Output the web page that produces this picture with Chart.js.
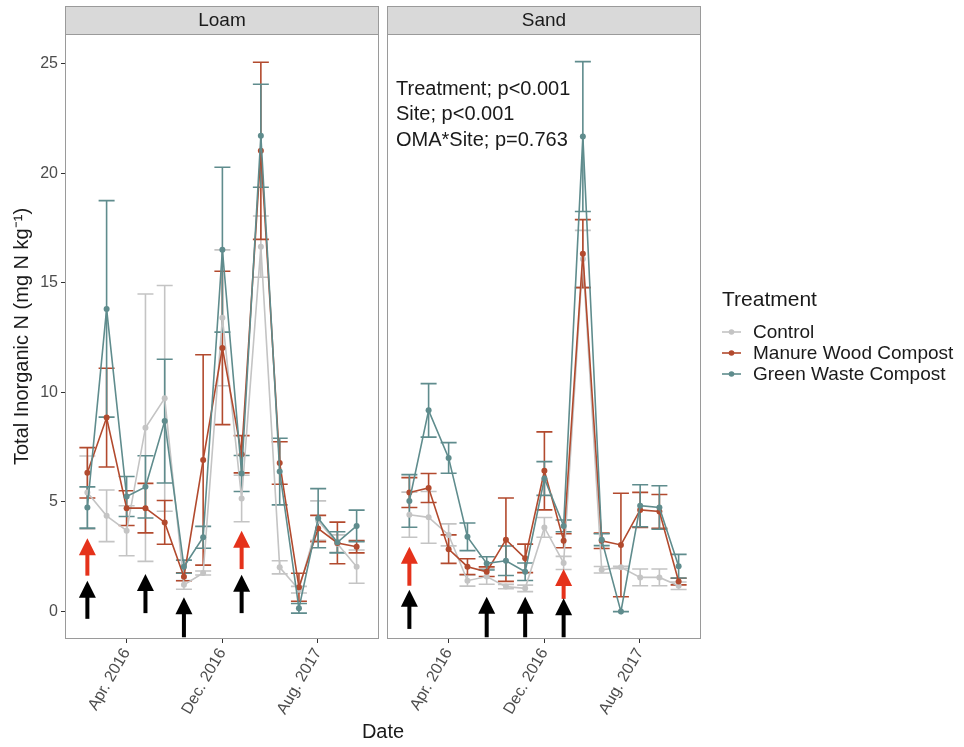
<!DOCTYPE html>
<html>
<head>
<meta charset="utf-8">
<script src="https://cdn.jsdelivr.net/npm/chart.js@4.4.1/dist/chart.umd.min.js"></script>
<style>
  body { margin: 0; background: #fff; font-family: "Liberation Sans", Arial, sans-serif; }
  #wrap { position: relative; width: 964px; height: 747px; }
  canvas.panel { position: absolute; left: 0; top: 0; }
  #xtitle { position: absolute; left: 383px; top: 720px; transform: translateX(-50%); font-size: 20px; color: #1a1a1a; }
  #legend { position: absolute; left: 722px; top: 287px; color: #1a1a1a; }
  #legend .ttl { font-size: 21px; height: 34px; }
  #legend .row { display: flex; align-items: center; height: 21px; font-size: 19px; }
  #legend canvas { margin-right: 12px; }
</style>
</head>
<body>
<div id="wrap">
  <canvas id="loam" class="panel" width="964" height="747"></canvas>
  <canvas id="sand" class="panel" width="964" height="747"></canvas>
  <div id="xtitle">Date</div>
  <div id="legend"><div class="ttl">Treatment</div></div>
</div>
<script>
// sampling dates (same for both sites)
const dates = ['2015-12-23', '2016-02-10', '2016-04-01', '2016-05-19', '2016-07-07', '2016-08-25', '2016-10-13',
  '2016-12-01', '2017-01-19', '2017-03-09', '2017-04-26', '2017-06-14', '2017-08-02', '2017-09-20', '2017-11-08'];
const tickDates = ['2016-04-01', '2016-12-01', '2017-08-01'];
const tickLabels = ['Apr. 2016', 'Dec. 2016', 'Aug. 2017'];
const yTicks = [0, 5, 10, 15, 20, 25];

const seriesNames = ['Control', 'Manure Wood Compost', 'Green Waste Compost'];
const seriesColors = ['#c4c4c4', '#b24a2e', '#5f8c8d'];

// Loam
const loamControl   = [5.43, 4.37, 3.69, 8.39, 9.73, 1.22, 1.76, 13.40, 5.16, 16.65, 2.02, 1.00, 4.15, 3.10, 2.05];
const loamControlSE = [1.67, 1.18, 1.14, 6.10, 5.15, 0.20, 0.09, 3.10, 1.06, 1.40, 0.30, 0.15, 0.90, 0.40, 0.76];
const loamManure    = [6.33, 8.85, 4.72, 4.72, 4.07, 1.59, 6.92, 12.03, 7.18, 21.02, 6.78, 1.11, 3.79, 3.13, 2.96];
const loamManureSE  = [1.15, 2.25, 0.79, 1.13, 1.00, 0.18, 4.80, 3.50, 0.85, 4.04, 0.97, 0.64, 0.60, 0.95, 0.28];
const loamGreen     = [4.75, 13.81, 5.25, 5.69, 8.69, 2.05, 3.39, 16.51, 6.30, 21.71, 6.39, 0.15, 4.26, 3.16, 3.91];
const loamGreenSE   = [0.94, 4.94, 0.91, 1.42, 2.82, 0.30, 0.50, 3.76, 0.82, 2.35, 1.52, 0.22, 1.35, 0.48, 0.72];

// Sand
const sandControl   = [4.42, 4.30, 3.50, 1.41, 1.60, 1.14, 1.06, 3.84, 2.22, 16.09, 1.91, 2.02, 1.56, 1.56, 1.18];
const sandControlSE = [1.03, 1.18, 0.50, 0.25, 0.35, 0.10, 0.15, 0.45, 0.30, 1.30, 0.15, 0.05, 0.38, 0.38, 0.17];
const sandManure    = [5.43, 5.64, 2.85, 2.05, 1.82, 3.28, 2.43, 6.42, 3.23, 16.33, 3.23, 3.04, 4.64, 4.57, 1.37];
const sandManureSE  = [0.68, 0.66, 0.65, 0.36, 0.22, 1.90, 0.65, 1.78, 0.32, 1.55, 0.35, 2.36, 0.80, 0.77, 0.15];
const sandGreen     = [5.05, 9.18, 7.01, 3.41, 2.20, 2.32, 1.82, 6.07, 3.91, 21.67, 3.28, 0.00, 4.83, 4.75, 2.07];
const sandGreenSE   = [1.20, 1.22, 0.70, 0.63, 0.30, 0.67, 0.40, 0.77, 0.27, 3.42, 0.27, 0.00, 0.96, 0.99, 0.54];

// arrows: [date index, y of tip, y of tail]
const loamRedArrows   = [[0, 3.35, 1.64], [8, 3.69, 1.94]];
const loamBlackArrows = [[0, 1.41, -0.33], [3, 1.72, -0.07], [5, 0.66, -1.17], [8, 1.68, -0.07]];
const sandRedArrows   = [[0, 2.96, 1.18], [8, 1.94, 0.58]];
const sandBlackArrows = [[0, 1.00, -0.79], [4, 0.68, -1.17], [6, 0.68, -1.17], [8, 0.61, -1.17]];

const statLines = ['Treatment; p<0.001', 'Site; p<0.001', 'OMA*Site; p=0.763'];

const FONT = '"Liberation Sans", Arial, sans-serif';
Chart.defaults.font.family = FONT;

function day(s) { return Date.parse(s) / 86400000; }

function drawArrow(ctx, x, yTip, yTail, color) {
  ctx.save();
  ctx.fillStyle = color;
  ctx.fillRect(x - 2, yTip + 15, 4, yTail - yTip - 15);
  ctx.beginPath();
  ctx.moveTo(x, yTip);
  ctx.lineTo(x - 8.5, yTip + 17);
  ctx.lineTo(x + 8.5, yTip + 17);
  ctx.closePath();
  ctx.fill();
  ctx.restore();
}

function makePanel(id, name, values, errors, redArrows, blackArrows, isLeft, notes) {
  const datasets = values.map((vals, k) => ({
    label: seriesNames[k],
    data: vals.map((v, i) => ({ x: day(dates[i]), y: v })),
    err: errors[k],
    borderColor: seriesColors[k],
    backgroundColor: seriesColors[k],
    borderWidth: 1.6,
    pointRadius: 3,
    pointBorderWidth: 0,
    tension: 0,
    order: 3 - k
  }));

  const deco = {
    id: 'deco',
    beforeDatasetsDraw(chart) {
      const ctx = chart.ctx, xs = chart.scales.x, ys = chart.scales.y;
      ctx.save();
      ctx.beginPath();
      ctx.rect(chart.chartArea.left, chart.chartArea.top, chart.chartArea.width, chart.chartArea.height);
      ctx.clip();
      chart.data.datasets.forEach(ds => {
        ctx.strokeStyle = ds.borderColor;
        ctx.lineWidth = 1.6;
        ds.data.forEach((p, i) => {
          const e = ds.err[i];
          const px = xs.getPixelForValue(p.x);
          const hi = ys.getPixelForValue(p.y + e), lo = ys.getPixelForValue(p.y - e);
          ctx.beginPath();
          ctx.moveTo(px, hi); ctx.lineTo(px, lo);
          ctx.moveTo(px - 8, hi); ctx.lineTo(px + 8, hi);
          ctx.moveTo(px - 8, lo); ctx.lineTo(px + 8, lo);
          ctx.stroke();
        });
      });
      ctx.restore();
    },
    afterDatasetsDraw(chart) {
      const ctx = chart.ctx, xs = chart.scales.x, ys = chart.scales.y;
      redArrows.forEach(a => drawArrow(ctx, xs.getPixelForValue(day(dates[a[0]])), ys.getPixelForValue(a[1]), ys.getPixelForValue(a[2]), '#e5321b'));
      blackArrows.forEach(a => drawArrow(ctx, xs.getPixelForValue(day(dates[a[0]])), ys.getPixelForValue(a[1]), ys.getPixelForValue(a[2]), '#000'));
    },
    afterDraw(chart) {
      const ctx = chart.ctx, a = chart.chartArea;
      ctx.save();
      // panel border
      ctx.strokeStyle = '#9a9a9a';
      ctx.lineWidth = 1;
      ctx.strokeRect(a.left + 0.5, a.top + 0.5, a.width - 1, a.height - 1);
      // strip
      ctx.fillStyle = '#d9d9d9';
      ctx.fillRect(a.left, 6, a.width, a.top - 6);
      ctx.strokeRect(a.left + 0.5, 6.5, a.width - 1, a.top - 6);
      ctx.fillStyle = '#1a1a1a';
      ctx.font = '19px ' + FONT;
      ctx.textAlign = 'center';
      ctx.textBaseline = 'middle';
      ctx.fillText(name, (a.left + a.right) / 2, (6 + a.top) / 2 + 1);
      if (notes) {
        ctx.font = '20px ' + FONT;
        ctx.textAlign = 'left';
        ctx.textBaseline = 'alphabetic';
        notes.forEach((t, i) => ctx.fillText(t, a.left + 9, 94.5 + i * 25.5));
      }
      ctx.restore();
    }
  };

  return new Chart(document.getElementById(id), {
    type: 'line',
    data: { datasets },
    options: {
      responsive: false,
      animation: false,
      events: [],
      layout: { padding: isLeft ? { top: 34, left: 0, right: 585, bottom: 0 } : { top: 34, left: 387, right: 263, bottom: 0 } },
      plugins: { legend: { display: false }, tooltip: { enabled: false } },
      scales: {
        x: {
          type: 'linear',
          min: day('2015-10-27'),
          max: day('2018-01-04'),
          afterBuildTicks: s => { s.ticks = tickDates.map(d => ({ value: day(d) })); },
          afterFit: s => { s.height = 108; },
          grid: { display: true, drawOnChartArea: false, drawTicks: true, tickLength: 4, color: '#333' },
          border: { display: false },
          ticks: {
            callback: (v, i) => tickLabels[i],
            minRotation: 60, maxRotation: 60,
            font: { size: 16 }, color: '#4d4d4d', padding: 2
          }
        },
        y: {
          display: isLeft,
          min: -1.25,
          max: 26.35,
          afterBuildTicks: s => { s.ticks = yTicks.map(v => ({ value: v })); },
          afterFit: s => { s.width = isLeft ? 65 : 0; },
          grid: { display: true, drawOnChartArea: false, drawTicks: true, tickLength: 4, color: '#333' },
          border: { display: false },
          ticks: { font: { size: 16 }, color: '#4d4d4d', padding: 3 },
          title: {
            display: true,
            text: 'Total Inorganic N (mg N kg\u207B\u00B9)',
            font: { size: 20 }, color: '#1a1a1a',
            padding: { top: 10, bottom: 0 }
          }
        }
      }
    },
    plugins: [deco]
  });
}

makePanel('loam', 'Loam',
  [loamControl, loamManure, loamGreen],
  [loamControlSE, loamManureSE, loamGreenSE],
  loamRedArrows, loamBlackArrows, true, null);

makePanel('sand', 'Sand',
  [sandControl, sandManure, sandGreen],
  [sandControlSE, sandManureSE, sandGreenSE],
  sandRedArrows, sandBlackArrows, false, statLines);

// legend
const legend = document.getElementById('legend');
seriesNames.forEach((n, k) => {
  const row = document.createElement('div');
  row.className = 'row';
  const key = document.createElement('canvas');
  key.width = 19; key.height = 10;
  const c = key.getContext('2d');
  c.strokeStyle = seriesColors[k]; c.fillStyle = seriesColors[k]; c.lineWidth = 1.6;
  c.beginPath(); c.moveTo(0, 5); c.lineTo(19, 5); c.stroke();
  c.beginPath(); c.arc(9.5, 5, 2.8, 0, Math.PI * 2); c.fill();
  row.appendChild(key);
  const t = document.createElement('span');
  t.textContent = n;
  row.appendChild(t);
  legend.appendChild(row);
});
</script>
</body>
</html>
